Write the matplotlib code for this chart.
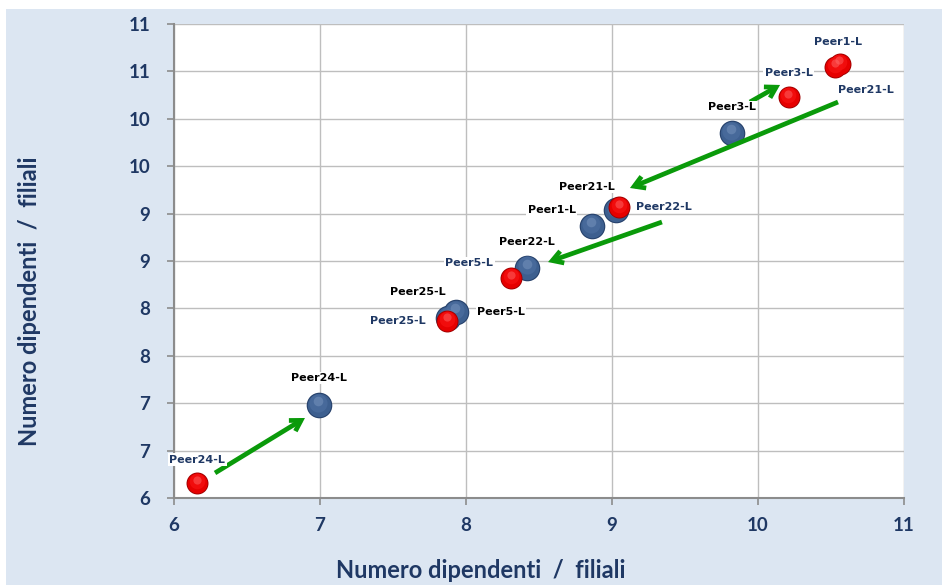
import matplotlib
matplotlib.use("Agg")
import matplotlib.pyplot as plt
from matplotlib.patches import Rectangle
from matplotlib.ticker import FixedLocator, FuncFormatter
import numpy as np

# Current year (blue) and previous year (red) positions for each peer
peers_blue = ["Peer24-L", "Peer25-L", "Peer5-L", "Peer22-L", "Peer1-L", "Peer21-L", "Peer3-L"]
blue_x = [6.99, 7.88, 7.93, 8.42, 8.86, 9.03, 9.82]
blue_y = [6.98, 7.90, 7.96, 8.43, 8.87, 9.04, 9.85]

peers_red = ["Peer24-L", "Peer25-L", "Peer5-L", "Peer22-L", "Peer3-L", "Peer21-L", "Peer1-L"]
red_x = [6.16, 7.87, 8.31, 9.05, 10.21, 10.53, 10.56]
red_y = [6.16, 7.87, 8.32, 9.07, 10.23, 10.55, 10.58]

# Label offsets in pixels (dx, dy) from each marker
blue_label_off = [(0, 27), (-31, 26), (45, 0), (0, 26), (-40, 16), (-30, 23), (0, 26)]
red_label_off = [(0, 23), (-49, 0), (-42, 15), (45, 0), (0, 24), (30, -23), (-2, 22)]

# Movement arrows (start, end) in data units
arrows = [
    ((6.281, 6.264), (6.897, 6.844)),
    ((9.342, 8.911), (8.562, 8.489)),
    ((10.548, 10.177), (9.123, 9.270)),
    ((9.945, 10.177), (10.151, 10.357)),
]

x_ticks = [6, 7, 8, 9, 10, 11]
y_ticks = [6, 6.5, 7, 7.5, 8, 8.5, 9, 9.5, 10, 10.5, 11]

axis_title = "Numero dipendenti  /  filiali"

NAVY = "#1F3864"
BG = "#DCE6F2"
GREEN = "#0A9A0A"

plt.rcParams["font.family"] = ["Lato", "DejaVu Sans"]

W, H = 942, 585
fig = plt.figure(figsize=(W / 100, H / 100), dpi=100)
fig.patch.set_facecolor("white")
fig.patches.append(Rectangle((6 / W, 0), 1, 1 - 9 / H, transform=fig.transFigure,
                             facecolor=BG, edgecolor="none", zorder=-10))

ax = fig.add_axes([174 / W, 1 - 498 / H, (904 - 174) / W, (498 - 24) / H])
ax.set_facecolor("white")
ax.set_xlim(6, 11)
ax.set_ylim(6, 11)

ax.xaxis.set_major_locator(FixedLocator(x_ticks))
ax.yaxis.set_major_locator(FixedLocator(y_ticks))


def excel_round(v, pos):
    return str(int(np.floor(v + 0.5)))


ax.xaxis.set_major_formatter(FuncFormatter(excel_round))
ax.yaxis.set_major_formatter(FuncFormatter(excel_round))

ax.grid(True, color="#BEBEBE", linewidth=1.0, zorder=0)
ax.set_axisbelow(True)
for side in ("top", "right"):
    ax.spines[side].set_visible(False)
for side in ("left", "bottom"):
    ax.spines[side].set_color("#8C8C8C")
    ax.spines[side].set_linewidth(1.5)
ax.tick_params(axis="both", length=5, width=1.2, color="#8C8C8C",
               labelsize=13.5, labelcolor=NAVY)
ax.tick_params(axis="x", pad=9)
ax.tick_params(axis="y", pad=12)
for lab in ax.get_xticklabels() + ax.get_yticklabels():
    lab.set_fontweight("bold")

# Axis titles placed in figure pixels
fig.text(481 / W, 1 - 570 / H, axis_title, fontsize=17, fontweight="bold",
         color=NAVY, ha="center", va="center")
fig.text(30 / W, 1 - 301 / H, axis_title, fontsize=17, fontweight="bold",
         color=NAVY, ha="center", va="center", rotation=90)


def spheres(xs, ys, size, base, edge, mid, light, z):
    ax.scatter(xs, ys, s=size, color=edge, linewidths=0, zorder=z, clip_on=False)
    ax.scatter(xs, ys, s=size * 0.84, color=base, linewidths=0, zorder=z + 0.1, clip_on=False)
    # soft shading toward the top of each sphere
    off = np.sqrt(size) * 0.10
    hx = ax.transData.transform(np.column_stack([xs, ys]))
    hx[:, 1] += off * 1.2
    hx[:, 0] -= off * 0.3
    hd = ax.transData.inverted().transform(hx)
    ax.scatter(hd[:, 0], hd[:, 1], s=size * 0.5, color=mid, linewidths=0, zorder=z + 0.2,
               clip_on=False, alpha=0.8)
    hx[:, 1] += off * 0.9
    hd = ax.transData.inverted().transform(hx)
    ax.scatter(hd[:, 0], hd[:, 1], s=size * 0.14, color=light, linewidths=0, zorder=z + 0.3,
               clip_on=False, alpha=0.45)


spheres(blue_x, blue_y, 340, "#3D5F8F", "#26416B", "#4A6C9E", "#7F9CC4", 5)
spheres(red_x, red_y, 250, "#E60000", "#9E0000", "#F41010", "#FF7070", 6)

box = dict(boxstyle="square,pad=0.12", facecolor="white", edgecolor="none")
lab_font = ["DejaVu Sans"]
for name, x, y, (dx, dy) in zip(peers_blue, blue_x, blue_y, blue_label_off):
    ax.annotate(name, (x, y), xytext=(dx, dy), textcoords="offset pixels",
                ha="center", va="center", fontsize=8, fontweight="bold",
                family=lab_font, color="black", bbox=box, zorder=8,
                annotation_clip=False)
for name, x, y, (dx, dy) in zip(peers_red, red_x, red_y, red_label_off):
    ax.annotate(name, (x, y), xytext=(dx, dy), textcoords="offset pixels",
                ha="center", va="center", fontsize=8, fontweight="bold",
                family=lab_font, color=NAVY, bbox=box, zorder=8,
                annotation_clip=False)

for (x0, y0), (x1, y1) in arrows:
    ax.annotate("", xy=(x1, y1), xytext=(x0, y0),
                arrowprops=dict(arrowstyle="->,head_length=0.75,head_width=0.45",
                                color=GREEN, lw=3.4, shrinkA=0, shrinkB=0,
                                capstyle="butt", joinstyle="miter"),
                zorder=7)

fig.savefig("out.png", dpi=100)
